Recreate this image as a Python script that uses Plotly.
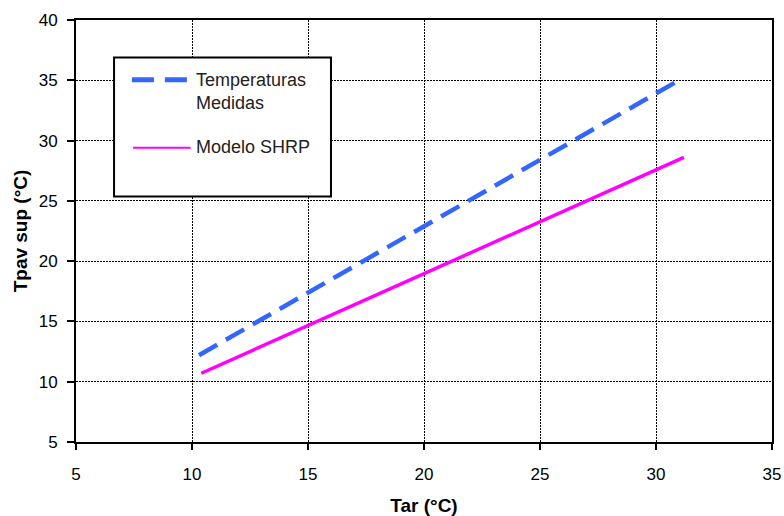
import plotly.graph_objects as go

# Measured pavement surface temperature vs. air temperature
tar_medidas = [10.3, 30.9]
tpav_medidas = [12.2, 34.9]

# SHRP model prediction
tar_shrp = [10.4, 31.2]
tpav_shrp = [10.7, 28.6]

x_ticks = [5, 10, 15, 20, 25, 30, 35]
y_ticks = [5, 10, 15, 20, 25, 30, 35, 40]

legend_labels = ["Temperaturas<br>Medidas", "Modelo SHRP"]

BLUE = "#3366FF"
MAGENTA = "#FF00FF"
FONT = "Liberation Sans, Arial, sans-serif"

fig = go.Figure()
fig.add_trace(go.Scatter(
    x=tar_medidas, y=tpav_medidas, mode="lines",
    line=dict(color=BLUE, width=4.5, dash="21px,10px"),
    name="Temperaturas Medidas", showlegend=False,
))
fig.add_trace(go.Scatter(
    x=tar_shrp, y=tpav_shrp, mode="lines",
    line=dict(color=MAGENTA, width=3.5),
    name="Modelo SHRP", showlegend=False,
))

# Boxed legend drawn inside the plotting area
fig.add_shape(type="rect", xref="x", yref="y", x0=6.64, x1=15.99, y0=25.36, y1=36.89,
              line=dict(color="black", width=2), fillcolor="white", layer="above")
fig.add_shape(type="line", xref="x", yref="y", x0=7.41, x1=9.78, y0=35.04, y1=35.04,
              line=dict(color=BLUE, width=5, dash="22px,11px"), layer="above")
fig.add_shape(type="line", xref="x", yref="y", x0=7.46, x1=9.94, y0=29.40, y1=29.40,
              line=dict(color=MAGENTA, width=2), layer="above")
fig.add_annotation(x=10.1, y=34.1, xref="x", yref="y", text=legend_labels[0],
                   showarrow=False, xanchor="left", yanchor="middle", align="left",
                   font=dict(family=FONT, size=18, color="#222222"))
fig.add_annotation(x=10.1, y=29.45, xref="x", yref="y", text=legend_labels[1],
                   showarrow=False, xanchor="left", yanchor="middle", align="left",
                   font=dict(family=FONT, size=18, color="#222222"))

axis_common = dict(
    showline=True, linecolor="black", linewidth=2, mirror=True,
    ticks="outside", tickcolor="black", tickwidth=1.5,
    showgrid=True, gridcolor="black", gridwidth=1, griddash="2px,1px",
    zeroline=False, tickfont=dict(family=FONT, size=17, color="black"),
)

fig.update_xaxes(
    range=[5, 35], tickvals=x_ticks, ticklen=6, ticklabelstandoff=10,
    title=dict(text="<b>Tar (°C)</b>", font=dict(family=FONT, size=19, color="black"), standoff=16),
    **axis_common,
)
fig.update_yaxes(
    range=[5, 40], tickvals=y_ticks, ticklen=7, ticklabelstandoff=6,
    title=dict(text="<b>Tpav sup (°C)</b>", font=dict(family=FONT, size=19, color="black"), standoff=6),
    **axis_common,
)

fig.update_layout(
    width=784, height=516,
    margin=dict(l=76, r=12, t=20, b=74, autoexpand=False),
    paper_bgcolor="white", plot_bgcolor="white",
)

fig.write_html("out.html")
